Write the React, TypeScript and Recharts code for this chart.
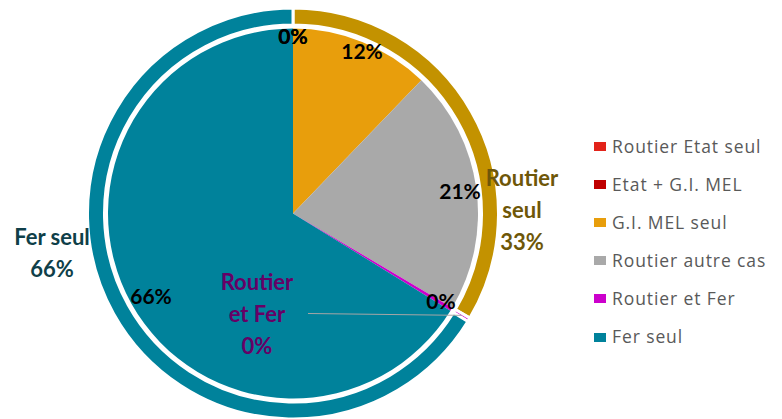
import React from 'react';
import { PieChart, Pie, Cell, Legend } from 'recharts';

// inner pie: detail of cases (percent of total)
const detailNames = ['Routier Etat seul', 'Etat + G.I. MEL', 'G.I. MEL seul', 'Routier autre cas', 'Routier et Fer', 'Fer seul'];
const detailValues = [0, 0, 12.2, 21.3, 0.3, 66.2];
const detailLabels = ['0%', '0%', '12%', '21%', '0%', '66%'];

// outer ring: grouped totals
const groupNames = ['Routier seul', 'Routier et Fer', 'Fer seul'];
const groupValues = [33.5, 0.3, 66.2];
const groupLabels = [['Routier', 'seul', '33%'], ['Routier', 'et Fer', '0%'], ['Fer seul', '66%']];

const detailColors = ['#E2231A', '#C00000', '#E89E0C', '#A9A9A9', '#CC00CC', '#00829B'];
const groupColors = ['#C39200', '#CC00CC', '#00829B'];
const groupTextColors = ['#6E5708', '#660066', '#0F3F49'];

// label centres relative to the pie centre
const detailOffsets = [[0, -178], [0, -178], [69, -163], [167, -23], [148, 87], [-142, 82]];
const groupOffsets = [[229, -4], [-36, 100], [-241, 39]];

const FONT = 'Lato, "Open Sans", sans-serif';
const RADIAN = Math.PI / 180;

const detailData = detailNames.map((name, i) => ({ name, value: detailValues[i] }));
const groupData = groupNames.map((name, i) => ({ name, value: groupValues[i] }));

const renderDetailLabel = (props: any) => {
  const { cx, cy, index } = props;
  const [dx, dy] = detailOffsets[index];
  return (
    <text x={cx + dx} y={cy + dy} textAnchor="middle" dominantBaseline="central"
      fill="#000" fontSize={21} fontWeight={700} fontFamily={FONT}>
      {detailLabels[index]}
    </text>
  );
};

const renderGroupLabel = (props: any) => {
  const { cx, cy, index, midAngle, innerRadius, outerRadius } = props;
  const [dx, dy] = groupOffsets[index];
  const lines = groupLabels[index];
  const lh = 32;
  const top = cy + dy - ((lines.length - 1) * lh) / 2;
  const r = (innerRadius + outerRadius) / 2;
  const lx = cx + r * Math.cos(-midAngle * RADIAN);
  const ly = cy + r * Math.sin(-midAngle * RADIAN);
  return (
    <g>
      {index === 1 && (
        <line x1={cx + dx + 51} y1={cy + dy} x2={lx} y2={ly} stroke="#A6A6A6" strokeWidth={1} />
      )}
      <text textAnchor="middle" fill={groupTextColors[index]} fontSize={22} fontWeight={700} fontFamily={FONT}>
        {lines.map((l, i) => (
          <tspan key={i} x={cx + dx} y={top + i * lh} dominantBaseline="central">{l}</tspan>
        ))}
      </text>
    </g>
  );
};

const renderLegend = () => (
  <div style={{ fontFamily: '"Open Sans", sans-serif', fontSize: 17.5, color: '#595959', letterSpacing: 0.9 }}>
    {detailNames.map((name, i) => (
      <div key={name} style={{ height: 38.1, display: 'flex', alignItems: 'center' }}>
        <span style={{ width: 12, height: 9, background: detailColors[i], marginRight: 6, display: 'inline-block' }} />
        <span style={{ lineHeight: 1, whiteSpace: 'nowrap' }}>{name}</span>
      </div>
    ))}
  </div>
);

const App: React.FC = () => {
  return (
    <div style={{ position: 'absolute', left: 0, top: 0, background: '#fff' }}>
      <PieChart width={782} height={419} margin={{ top: 0, right: 0, bottom: 0, left: 0 }}>
        <Pie
          data={detailData}
          dataKey="value"
          nameKey="name"
          cx={293}
          cy={213.5}
          outerRadius={185}
          startAngle={90}
          endAngle={-270}
          stroke="none"
          label={renderDetailLabel}
          labelLine={false}
          isAnimationActive={false}
        >
          {detailData.map((d, i) => (
            <Cell key={d.name} fill={detailColors[i]} />
          ))}
        </Pie>
        <Pie
          data={groupData}
          dataKey="value"
          nameKey="name"
          cx={293}
          cy={213.5}
          innerRadius={188.5}
          outerRadius={205.5}
          startAngle={90}
          endAngle={-270}
          stroke="#fff"
          strokeWidth={3}
          label={renderGroupLabel}
          labelLine={false}
          isAnimationActive={false}
        >
          {groupData.map((d, i) => (
            <Cell key={d.name} fill={groupColors[i]} />
          ))}
        </Pie>
        <Legend
          layout="vertical"
          align="right"
          verticalAlign="top"
          content={renderLegend}
          wrapperStyle={{ left: 594, top: 127.5, width: 188 }}
        />
      </PieChart>
    </div>
  );
};

export default App;
